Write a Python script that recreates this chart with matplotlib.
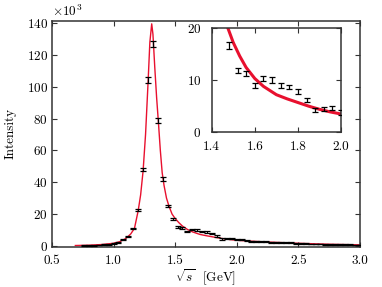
import numpy as np
import matplotlib
matplotlib.use('Agg')
from matplotlib import pyplot as plt

plt.rcParams['font.family'] = 'serif'
plt.rcParams['font.serif'] = ['cmr10', 'DejaVu Serif']
plt.rcParams['mathtext.fontset'] = 'cm'
plt.rcParams['axes.formatter.use_mathtext'] = True
plt.rcParams['font.size'] = 9.5

# measured points (sqrt(s) in GeV, intensity in units of 10^3)
x_data = [0.76, 0.80, 0.84, 0.88, 0.92, 0.96, 1.00, 1.04, 1.08, 1.12,
          1.16, 1.20, 1.24, 1.28, 1.32, 1.36, 1.40, 1.44, 1.48, 1.52,
          1.56, 1.60, 1.64, 1.68, 1.72, 1.76, 1.80, 1.84, 1.88, 1.92,
          1.96, 2.00, 2.04, 2.08, 2.12, 2.16, 2.20, 2.24, 2.28, 2.32,
          2.36, 2.40, 2.44, 2.48, 2.52, 2.56, 2.60, 2.64, 2.68, 2.72,
          2.76, 2.80, 2.84, 2.88, 2.92, 2.96, 3.00]
y_data = [0.2, 0.3, 0.4, 0.5, 0.7, 0.9, 1.3, 2.3, 4.0, 5.8,
          11.0, 22.5, 48.0, 104.0, 127.0, 78.5, 42.0, 24.8, 16.6, 11.9,
          11.3, 8.9, 10.3, 10.0, 9.0, 8.7, 7.8, 6.2, 4.3, 4.5,
          4.6, 3.8, 3.9, 3.2, 2.6, 2.7, 2.6, 2.5, 2.3, 2.2,
          2.0, 1.9, 1.8, 1.6, 1.4, 1.3, 1.2, 1.2, 1.1, 1.0,
          0.9, 0.9, 0.8, 0.7, 0.7, 0.6, 0.5]
y_err = [0.2, 0.2, 0.2, 0.2, 0.2, 0.2, 0.3, 0.3, 0.4, 0.4,
         0.5, 0.8, 1.2, 1.8, 2.0, 1.6, 1.0, 0.7, 0.6, 0.5,
         0.5, 0.5, 0.5, 0.5, 0.5, 0.4, 0.4, 0.4, 0.4, 0.4,
         0.4, 0.4, 0.3, 0.3, 0.3, 0.3, 0.3, 0.3, 0.3, 0.3,
         0.3, 0.3, 0.3, 0.3, 0.2, 0.2, 0.2, 0.2, 0.2, 0.2,
         0.2, 0.2, 0.2, 0.2, 0.2, 0.2, 0.2]

# fit curve
x_fit = [0.69, 0.80, 0.90, 1.00, 1.05, 1.10, 1.14, 1.17, 1.20, 1.22,
         1.24, 1.26, 1.28, 1.295, 1.31, 1.32, 1.335, 1.35, 1.365, 1.38,
         1.395, 1.41, 1.43, 1.45, 1.475, 1.50, 1.53, 1.56, 1.60, 1.64,
         1.70, 1.75, 1.80, 1.85, 1.90, 1.95, 2.00, 2.10, 2.25, 2.50,
         2.75, 3.00]
y_fit = [0.2, 0.4, 0.8, 1.6, 2.6, 4.6, 7.5, 11.0, 22.0, 32.0,
         47.0, 70.0, 102.0, 128.0, 139.5, 133.0, 112.0, 93.0, 77.0, 60.0,
         46.0, 38.0, 30.0, 25.0, 20.0, 17.2, 14.6, 12.4, 10.3, 8.8,
         7.2, 6.4, 5.7, 5.0, 4.4, 3.9, 3.5, 3.0, 2.4, 1.6,
         1.0, 0.6]

red = '#e8102e'
spine_c = '#333333'


def style(ax, xpad, ypad):
    ax.tick_params(direction='in', top=True, right=True, length=3.5,
                   width=0.8, color=spine_c)
    ax.tick_params(axis='x', pad=xpad)
    ax.tick_params(axis='y', pad=ypad)
    for s in ax.spines.values():
        s.set_linewidth(1.1)
        s.set_color(spine_c)


fig = plt.figure(figsize=(3.82, 2.87), dpi=100)
ax = fig.add_axes([0.136, 0.139, 0.806, 0.789])

xd = np.array(x_data)
yd = np.array(y_data) * 1000
ed = np.array(y_err) * 1000
ax.plot(x_fit, np.array(y_fit) * 1000, color=red, lw=1.0, zorder=2)
ax.errorbar(xd, yd, yerr=ed, fmt='none', ecolor='black', elinewidth=0.9,
            capsize=2, capthick=0.9, zorder=3)
ax.set_xlim(0.5, 3.0)
ax.set_ylim(-800, 141500)
ax.set_xticks(np.arange(0.5, 3.01, 0.5))
ax.set_yticks(np.arange(0, 140001, 20000))
ax.xaxis.set_major_formatter(matplotlib.ticker.FormatStrFormatter('%.1f'))
ax.ticklabel_format(axis='y', style='sci', scilimits=(3, 3), useMathText=True)
ax.yaxis.get_offset_text().set_fontsize(9.5)
ax.set_xlabel(r'$\sqrt{s}$  [GeV]', labelpad=0.5)
ax.set_ylabel('Intensity', labelpad=7)
style(ax, 5.5, 3)

ins = fig.add_axes([0.554, 0.539, 0.339, 0.364])
msk = (xd > 1.45) & (xd < 2.02)
ins.plot(x_fit, y_fit, color=red, lw=2.2, zorder=2)
ins.errorbar(xd[msk], np.array(y_data)[msk], yerr=np.array(y_err)[msk],
             fmt='none', ecolor='black', elinewidth=0.9, capsize=2,
             capthick=0.9, zorder=3)
ins.set_xlim(1.4, 2.0)
ins.set_ylim(0, 20)
ins.set_xticks([1.4, 1.6, 1.8, 2.0])
ins.set_yticks([0, 10, 20])
ins.xaxis.set_major_formatter(matplotlib.ticker.FormatStrFormatter('%.1f'))
style(ins, 6.5, 7.5)

fig.savefig('out.png', dpi=100)
